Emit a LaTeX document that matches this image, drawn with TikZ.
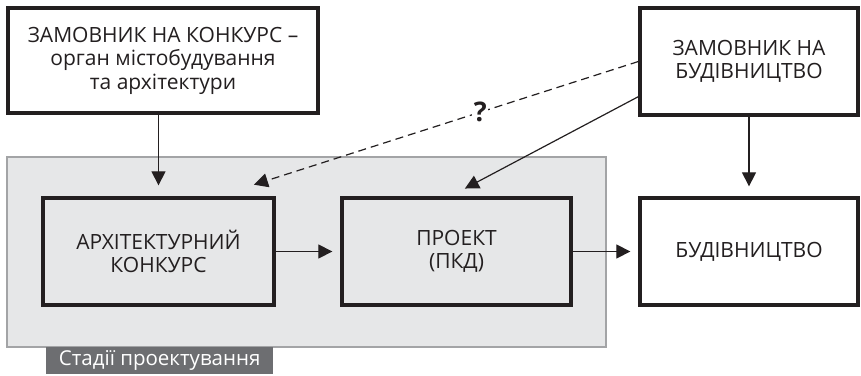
\documentclass[tikz,border=0pt]{standalone}
\usepackage{fontspec}
\setmainfont{Open Sans}
\usetikzlibrary{arrows.meta,calc}
\definecolor{panel}{HTML}{E6E7E8}
\definecolor{panelline}{HTML}{A3A4A6}
\definecolor{tagfill}{HTML}{6D6E71}
\definecolor{ink}{HTML}{231F20}
\tikzset{
  box/.style={draw=ink,line width=3.3pt,minimum height=107pt,align=center,inner sep=0pt,
    font=\fontsize{21}{23.5}\selectfont,text=ink},
  conn/.style={draw=ink,line width=1.2pt,-{Triangle[length=14pt,width=14pt]},shorten >=1pt},
}
\begin{document}
\begin{tikzpicture}[x=1pt,y=-1pt]
\useasboundingbox (0,0) rectangle (861,375);
\fill[white] (0,0) rectangle (861,375);
% panel
\node[draw=panelline,fill=panel,line width=1.2pt,minimum width=599pt,minimum height=190pt,inner sep=0pt] (panel) at (306.5,252) {};
\node[fill=tagfill,text=white,minimum width=227pt,minimum height=27pt,inner sep=0pt,
  font=\fontsize{20.5}{22}\selectfont,anchor=north west] (tag) at (46,347) {Стадії проектування};
% boxes
\node[box,fill=white,minimum width=310pt,minimum height=105pt] (zk) at (163,60.5)
  {ЗАМОВНИК НА КОНКУРС –\\орган містобудування\\та архітектури};
\node[box,fill=white,minimum width=218pt] (zb) at (749,61.5) {ЗАМОВНИК НА\\БУДІВНИЦТВО};
\node[box,minimum width=231pt] (ak) at (158.5,251.5) {АРХІТЕКТУРНИЙ\\КОНКУРС};
\node[box,minimum width=229pt] (pr) at (456.5,251.5) {ПРОЕКТ\\(ПКД)};
\node[box,fill=white,minimum width=218pt] (bd) at (749,251.5) {БУДІВНИЦТВО};
% connector ends
\coordinate (zkout) at (ak.north |- zk.south);
\coordinate (akin) at ($(ak.north)+(0,-10)$);
\coordinate (zbout) at (zb.south);
\coordinate (bdin) at ($(bd.north)+(0,-9)$);
\coordinate (diagfrom) at ($(zb.south west)+(0,-20)$);
\coordinate (diagto) at (464,189);
\coordinate (dashto) at (253,185);
\coordinate (akout) at (ak.east);
\coordinate (prin) at ($(pr.west)+(-7,0)$);
\coordinate (prout) at (pr.east);
\coordinate (bdinl) at ($(bd.west)+(-7,0)$);
% connectors
\draw[conn] (zkout) -- (akin);
\draw[conn] (zbout) -- (bdin);
\draw[conn] (diagfrom) -- (diagto);
\draw[conn,dashed,dash pattern=on 8pt off 5pt] (zb.west) -- (dashto)
  node[pos=0.41,fill=white,inner sep=1.5pt,text=ink,font=\fontsize{27}{28}\selectfont\bfseries] (q) {?};
\draw[conn] (akout) -- (prin);
\draw[conn] (prout) -- (bdinl);
\end{tikzpicture}
\end{document}
